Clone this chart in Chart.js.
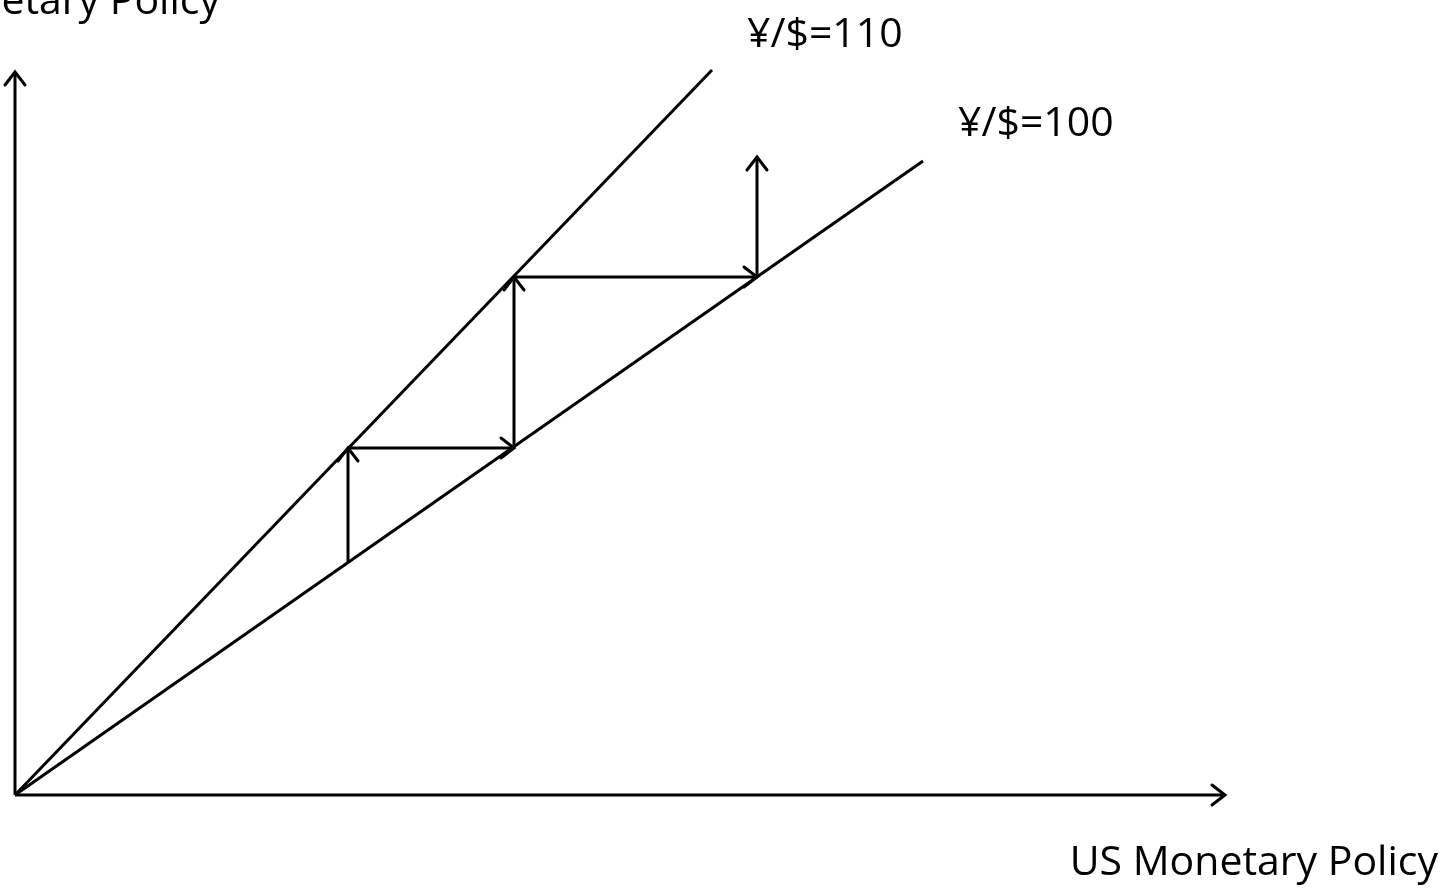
<!DOCTYPE html>
<html>
<head>
<meta charset="utf-8">
<script src="https://cdn.jsdelivr.net/npm/chart.js@4/dist/chart.umd.min.js"></script>
<style>
  html, body { margin: 0; padding: 0; background: #fff; }
  canvas { display: block; }
</style>
</head>
<body>
<canvas id="myChart" width="1450" height="891"></canvas>
<script>
// all values in diagram units (origin = where the two policy axes meet)
const xAxisLine = [{x: 0, y: 0}, {x: 12.10, y: 0}];
const yAxisLine = [{x: 0, y: 0}, {x: 0, y: 7.23}];
const line110 = [{x: 0, y: 0}, {x: 6.97, y: 7.25}];
const line100 = [{x: 0, y: 0}, {x: 9.08, y: 6.34}];
const stepArrows = [
    [{x: 3.33, y: 2.32}, {x: 3.33, y: 3.47}],
    [{x: 3.33, y: 3.47}, {x: 4.99, y: 3.47}],
    [{x: 4.99, y: 3.48}, {x: 4.99, y: 5.18}],
    [{x: 4.99, y: 5.18}, {x: 7.42, y: 5.18}],
    [{x: 7.42, y: 5.18}, {x: 7.42, y: 6.38}]
];
const labels = [
    {text: '¥/$=110', x: 7.32, y: 7.48, align: 'left'},
    {text: '¥/$=100', x: 9.43, y: 6.59, align: 'left'},
    {text: 'US Monetary Policy', x: 14.23, y: -0.80, align: 'right'},
    {text: 'etary Policy', x: 2.05, y: 7.81, align: 'right'}
];

const FONT = '41px "Open Sans", Lato, sans-serif';

function lineSet(points, arrow) {
    return {
        data: points,
        showLine: true,
        borderColor: '#000',
        borderWidth: 3,
        pointRadius: 0,
        fill: false,
        arrow: arrow
    };
}

const arrowPlugin = {
    id: 'arrowHeads',
    afterDatasetsDraw(chart) {
        const ctx = chart.ctx;
        chart.data.datasets.forEach((ds, i) => {
            if (!ds.arrow) return;
            const pts = chart.getDatasetMeta(i).data;
            const a = pts[pts.length - 2], b = pts[pts.length - 1];
            const ang = Math.atan2(b.y - a.y, b.x - a.x);
            const back = 13, side = 10;
            ctx.save();
            ctx.strokeStyle = '#000';
            ctx.lineWidth = 3;
            ctx.lineCap = 'round';
            ctx.beginPath();
            ctx.moveTo(b.x - back * Math.cos(ang) + side * Math.sin(ang), b.y - back * Math.sin(ang) - side * Math.cos(ang));
            ctx.lineTo(b.x, b.y);
            ctx.lineTo(b.x - back * Math.cos(ang) - side * Math.sin(ang), b.y - back * Math.sin(ang) + side * Math.cos(ang));
            ctx.stroke();
            ctx.restore();
        });
    }
};

const labelPlugin = {
    id: 'textLabels',
    afterDraw(chart) {
        const ctx = chart.ctx;
        const xs = chart.scales.x, ys = chart.scales.y;
        ctx.save();
        ctx.fillStyle = '#000';
        ctx.font = FONT;
        ctx.textBaseline = 'alphabetic';
        labels.forEach(l => {
            ctx.textAlign = l.align;
            ctx.fillText(l.text, xs.getPixelForValue(l.x), ys.getPixelForValue(l.y));
        });
        ctx.restore();
    }
};

function drawChart() {
    const datasets = [
        lineSet(xAxisLine, true),
        lineSet(yAxisLine, true),
        lineSet(line110, false),
        lineSet(line100, false)
    ];
    stepArrows.forEach(s => datasets.push(lineSet(s, true)));

    new Chart(document.getElementById('myChart').getContext('2d'), {
        type: 'scatter',
        data: { datasets: datasets },
        options: {
            responsive: false,
            animation: false,
            events: [],
            layout: { padding: 0 },
            plugins: { legend: { display: false }, tooltip: { enabled: false } },
            scales: {
                x: { type: 'linear', display: false, min: -0.15, max: 14.35 },
                y: { type: 'linear', display: false, min: -0.96, max: 7.95 }
            }
        },
        plugins: [arrowPlugin, labelPlugin]
    });
}

document.fonts.load(FONT).then(drawChart, drawChart);
</script>
</body>
</html>
